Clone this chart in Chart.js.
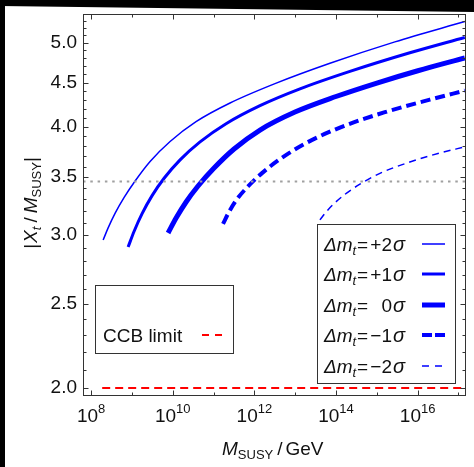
<!DOCTYPE html>
<html><head><meta charset="utf-8">
<script src="https://cdn.jsdelivr.net/npm/chart.js@4.4.1/dist/chart.umd.min.js"></script>
<style>html,body{margin:0;padding:0;background:#fff}canvas{display:block}</style>
</head><body>
<canvas id="c" width="474" height="467"></canvas>
<script>
// log10(M_SUSY/GeV) and |Xt/M_SUSY| along each boundary, one pair per top-mass shift
const lgM_p2=[8.294,8.416,8.588,8.808,9.077,9.444,9.934,10.570,11.403,12.504,13.851,15.442,17.155];
const xt_p2=[2.963,3.059,3.181,3.317,3.465,3.649,3.848,4.056,4.262,4.487,4.736,5.013,5.291];
const lgM_p1=[8.906,9.053,9.248,9.493,9.787,10.179,10.668,11.305,12.137,13.116,14.340,15.809,17.155];
const xt_p1=[2.908,3.032,3.177,3.333,3.490,3.665,3.844,4.034,4.232,4.425,4.635,4.870,5.073];
const lgM_0=[9.885,10.081,10.326,10.619,11.011,11.501,12.137,12.994,13.998,15.001,16.005,17.155];
const xt_0=[3.018,3.140,3.277,3.419,3.586,3.772,3.967,4.161,4.336,4.494,4.643,4.803];
const lgM_m1=[11.231,11.378,11.574,11.843,12.186,12.627,13.239,14.095,15.197,16.299,17.155];
const xt_m1=[3.092,3.192,3.302,3.415,3.538,3.672,3.826,3.993,4.159,4.300,4.405];
const lgM_m2=[13.606,13.753,13.949,14.218,14.585,15.075,15.809,16.543,17.155];
const xt_m2=[3.125,3.190,3.262,3.344,3.436,3.536,3.644,3.732,3.793];
// CCB limit and the dotted reference level
const ccbLgM=[8.27,17.16];
const ccbXt=[2.0,2.0];
const refLgM=[7.8,17.16];
const refXt=[3.46,3.46];

const sigmaLabels=['+2','+1','0','\u22121','\u22122'];
const yTickLabels=['2.0','2.5','3.0','3.5','4.0','4.5','5.0'];
const xDecades=[8,9,10,11,12,13,14,15,16,17];

const FONT='"Liberation Sans", Arial, sans-serif';
const BLUE='#0000ff';

function pts(lg,v){return lg.map((l,i)=>({x:Math.pow(10,l),y:v[i]}))}

function curve(lg,v,w,dash){
  return {data:pts(lg,v),borderColor:BLUE,borderWidth:w,borderDash:dash,borderCapStyle:'butt',
    cubicInterpolationMode:'monotone',fill:false,pointRadius:0};
}

const datasets=[
  {data:pts(refLgM,refXt),borderColor:'#a0a0a0',borderWidth:2,borderDash:[2.5,4.8],pointRadius:0,tension:0},
  {data:pts(ccbLgM,ccbXt),borderColor:'#ff0000',borderWidth:2,borderDash:[8,5],pointRadius:0,tension:0},
  curve(lgM_p2,xt_p2,1.5,[]),
  curve(lgM_p1,xt_p1,3,[]),
  curve(lgM_0,xt_0,5,[]),
  curve(lgM_m1,xt_m1,4,[10,5]),
  curve(lgM_m2,xt_m2,1.5,[7,5])
];

// pieces of mixed-style text: [string, font, dy, gapAfter]
function drawPieces(c,pieces,x,y){
  let cx=x;
  pieces.forEach(p=>{c.font=p[1];c.fillText(p[0],cx,y+(p[2]||0));cx+=c.measureText(p[0]).width+(p[3]||0)});
  return cx-x;
}
function piecesWidth(c,pieces){
  let w=0;pieces.forEach(p=>{c.font=p[1];w+=c.measureText(p[0]).width+(p[3]||0)});return w;
}

const frame={id:'frame',
  beforeDraw(ch){const c=ch.ctx;c.save();c.fillStyle='#fff';c.fillRect(0,0,ch.width,ch.height);c.restore()},
  afterDraw(ch){
    const c=ch.ctx,a=ch.chartArea,xs=ch.scales.x,ys=ch.scales.y;
    const L=Math.round(a.left)+0.5,R=Math.round(a.right)+0.5,T=Math.round(a.top)+0.5,B=Math.round(a.bottom)+0.5;
    c.save();
    c.strokeStyle='#333';c.lineWidth=1;
    c.strokeRect(L,T,R-L,B-T);
    c.beginPath();
    // x ticks, inward on bottom and top
    xDecades.forEach(d=>{
      const px=Math.round(xs.getPixelForValue(Math.pow(10,d)))+0.5;
      const len=d%2===0?5:3;
      c.moveTo(px,B);c.lineTo(px,B-len);
      c.moveTo(px,T);c.lineTo(px,T+len);
    });
    // y ticks every 0.1, major every 0.5
    for(let k=20;k<=53;k++){
      const v=k/10,py=Math.round(ys.getPixelForValue(v))+0.5;
      const len=k%5===0?5:3;
      c.moveTo(L,py);c.lineTo(L+len,py);
      c.moveTo(R,py);c.lineTo(R-len,py);
    }
    c.stroke();

    c.fillStyle='#111';
    // y tick labels
    c.font='19px '+FONT;c.textAlign='right';c.textBaseline='middle';
    yTickLabels.forEach(s=>{c.fillText(s,77,ys.getPixelForValue(parseFloat(s)))});
    // x tick labels 10^n
    c.textAlign='left';c.textBaseline='alphabetic';
    xDecades.filter(d=>d%2===0).forEach(d=>{
      const px=xs.getPixelForValue(Math.pow(10,d));
      const p=[['10','19px '+FONT,0],[String(d),'13px '+FONT,-9]];
      drawPieces(c,p,px-piecesWidth(c,p)/2,422);
    });
    // x title
    drawPieces(c,[['M','italic 19px '+FONT,0,0],['SUSY','13px '+FONT,4,4],['/','19px '+FONT,0,3],['GeV','19px '+FONT,0]],222,455);
    // y title, rotated
    c.save();c.translate(37,203);c.rotate(-Math.PI/2);
    const yt=[['|','19px '+FONT,0,1],['X','italic 19px '+FONT,0],['t','italic 13px '+FONT,4,4],['/','19px '+FONT,0,4],
      ['M','italic 19px '+FONT,0],['SUSY','13px '+FONT,4],['|','19px '+FONT,0]];
    drawPieces(c,yt,-piecesWidth(c,yt)/2,0);
    c.restore();

    // CCB legend box
    c.fillStyle='#fff';c.fillRect(95.5,285.5,138,68);
    c.strokeStyle='#333';c.strokeRect(95.5,285.5,138,68);
    c.fillStyle='#111';c.font='19px '+FONT;c.fillText('CCB limit',103,342);
    const ccb=ch.data.datasets[1];
    c.strokeStyle=ccb.borderColor;c.lineWidth=ccb.borderWidth;c.setLineDash([7,6]);
    c.beginPath();c.moveTo(202,335);c.lineTo(222,335);c.stroke();c.setLineDash([]);

    // top-mass legend box
    c.fillStyle='#fff';c.fillRect(317.5,224.5,138,159);
    c.strokeStyle='#333';c.lineWidth=1;c.strokeRect(317.5,224.5,138,159);
    const rowY=[244,274,305,335,366];
    const sampleDash=[[],[],[],[10,3],[7,6]];
    sigmaLabels.forEach((s,i)=>{
      const bl=rowY[i]+7;
      c.fillStyle='#111';c.textAlign='left';
      drawPieces(c,[['\u0394m','italic 19px '+FONT,0],['t','italic 13px '+FONT,4]],324,bl);
      c.font='19px '+FONT;c.fillText('=',357,bl);
      c.textAlign='right';c.fillText(s,392,bl);
      c.textAlign='left';c.font='italic 20px '+FONT;c.fillText('\u03c3',393,bl);
      const ds=ch.data.datasets[i+2];
      c.strokeStyle=ds.borderColor;c.lineWidth=ds.borderWidth;c.setLineDash(sampleDash[i]);
      c.beginPath();c.moveTo(422,rowY[i]);c.lineTo(445,rowY[i]);c.stroke();c.setLineDash([]);
    });

    // dark surround along top and left
    c.fillStyle='#000';
    c.beginPath();c.moveTo(0,0);c.lineTo(ch.width,0);c.lineTo(ch.width,12);c.lineTo(0,6);c.closePath();c.fill();
    c.fillRect(0,0,5,ch.height);
    c.restore();
  }
};

new Chart(document.getElementById('c'),{
  type:'line',
  data:{datasets},
  options:{
    responsive:false,animation:false,events:[],
    layout:{padding:{left:83,top:14,right:9,bottom:72}},
    plugins:{legend:{display:false},tooltip:{enabled:false}},
    scales:{
      x:{type:'logarithmic',min:Math.pow(10,7.8),max:Math.pow(10,17.16),display:false},
      y:{type:'logarithmic',min:1.963,max:5.398,display:false}
    }
  },
  plugins:[frame]
});
</script>
</body></html>
